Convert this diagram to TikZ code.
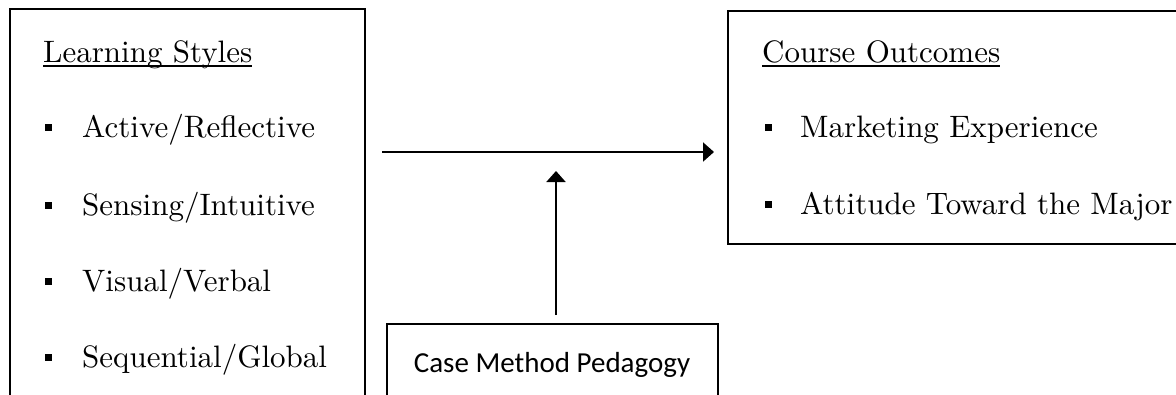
\documentclass[tikz,border=0pt]{standalone}
\usepackage{fontspec}
\newfontfamily\carlitofont{Carlito}
\newfontfamily\lmtenfont{lmroman10-regular.otf}
\usetikzlibrary{arrows.meta}
\begin{document}
\begin{tikzpicture}[x=1pt,y=-1pt,
  boxstyle/.style={draw=black,line width=2pt,rectangle,inner sep=0pt},
  serif/.style={font=\lmtenfont\fontsize{31}{36}\selectfont,inner sep=0pt,anchor=base west},
  sans/.style={font=\carlitofont\fontsize{29}{34}\selectfont,inner sep=0pt,anchor=base},
  bul/.style={fill=black,rectangle,minimum size=7pt,inner sep=0pt},
  conn/.style={line width=2pt,-{Triangle[length=11pt,width=19pt]}},
  uline/.style={line width=1.3pt}]
\useasboundingbox (0,0) rectangle (1176,394);
\clip (0,0) rectangle (1176,394);
% boxes
\node[boxstyle,minimum width=355pt,minimum height=421pt] (ls) at (187.5,219.5) {};
\node[boxstyle,minimum width=472pt,minimum height=233pt] (co) at (964,127.5) {};
\node[boxstyle,minimum width=331pt,minimum height=106pt] (cm) at (552.5,377) {};
% left texts
\node[serif] (t1) at (43,62) {Learning Styles};
\draw[uline] ([yshift=-4pt]t1.base west) -- ([yshift=-4pt]t1.base east);
\node[bul] (b1) at (48.5,127.5) {};
\node[serif] (l1) at (82,137) {Active/Reflective};
\node[bul] (b2) at (48.5,205.5) {};
\node[serif] (l2) at (82,215) {Sensing/Intuitive};
\node[bul] (b3) at (48.5,281.5) {};
\node[serif] (l3) at (82,291) {Visual/Verbal};
\node[bul] (b4) at (48.5,357.5) {};
\node[serif] (l4) at (82,367) {Sequential/Global};
% right texts
\node[serif] (t2) at (762,62) {Course Outcomes};
\draw[uline] ([yshift=-4pt]t2.base west) -- ([yshift=-4pt]t2.base east);
\node[bul] (b5) at (768.5,127.5) {};
\node[serif] (r1) at (800,137) {Marketing Experience};
\node[bul] (b6) at (768.5,204.5) {};
\node[serif] (r2) at (800,214) {Attitude Toward the Major};
% case method
\node[sans] (cmt) at (552,372) {Case Method Pedagogy};
% arrows
\coordinate (h1) at (382,152);
\coordinate (h2) at (714,152);
\coordinate (v1) at (556,315);
\coordinate (v2) at (556,171);
\draw[conn] (h1) -- (h2);
\draw[conn] (v1) -- (v2);
\end{tikzpicture}
\end{document}
